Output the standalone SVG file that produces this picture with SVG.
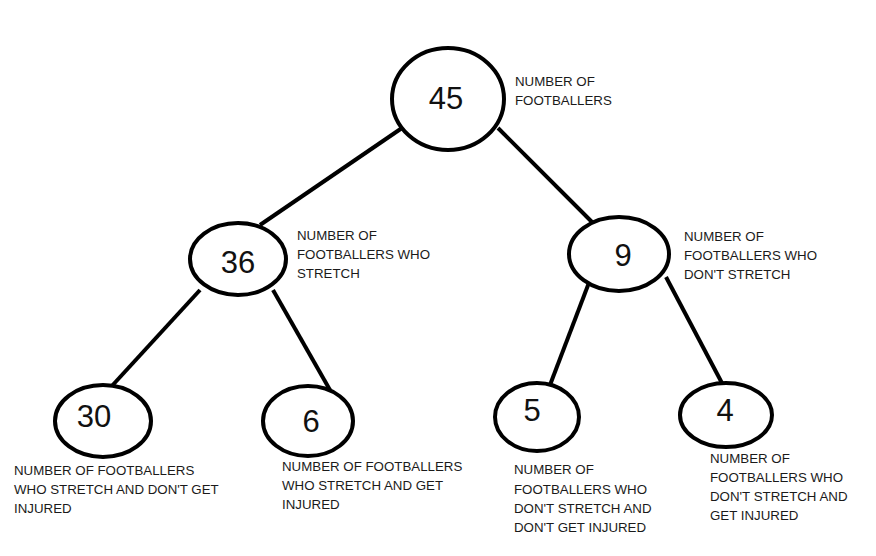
<svg xmlns="http://www.w3.org/2000/svg" width="876" height="556" viewBox="0 0 876 556">
<style>
.node{fill:#fff;stroke:#000;stroke-width:4}
.edge{stroke:#000;stroke-width:4;fill:none}
.num{font-family:"Liberation Sans",Arial,sans-serif;font-size:31px;fill:#111;text-anchor:middle}
.lbl{font-family:"Liberation Sans",Arial,sans-serif;font-size:13.3px;fill:#1a1a1a}
</style>
<rect width="876" height="556" fill="#fff"/>
<g id="connectors">
<line class="edge" x1="402" y1="128" x2="260" y2="225"/>
<line class="edge" x1="498" y1="128" x2="593" y2="223"/>
<line class="edge" x1="200" y1="290" x2="110" y2="388"/>
<line class="edge" x1="273" y1="290" x2="330" y2="390"/>
<line class="edge" x1="590" y1="280" x2="550" y2="385"/>
<line class="edge" x1="666" y1="277" x2="723" y2="385"/>
</g>
<g id="n45">
<ellipse class="node" cx="448" cy="99" rx="56" ry="51"/>
<text class="num" x="446" y="109">45</text>
<text class="lbl" x="515" y="86">NUMBER OF</text>
<text class="lbl" x="515" y="105">FOOTBALLERS</text>
</g>
<g id="n36">
<ellipse class="node" cx="238" cy="259" rx="48" ry="36"/>
<text class="num" x="238" y="273">36</text>
<text class="lbl" x="297" y="240">NUMBER OF</text>
<text class="lbl" x="297" y="259">FOOTBALLERS WHO</text>
<text class="lbl" x="297" y="278">STRETCH</text>
</g>
<g id="n9">
<ellipse class="node" cx="619" cy="254" rx="50" ry="37"/>
<text class="num" x="623" y="266">9</text>
<text class="lbl" x="684" y="241">NUMBER OF</text>
<text class="lbl" x="684" y="260">FOOTBALLERS WHO</text>
<text class="lbl" x="684" y="279">DON'T STRETCH</text>
</g>
<g id="n30">
<ellipse class="node" cx="103" cy="421" rx="48" ry="36"/>
<text class="num" x="94" y="427">30</text>
<text class="lbl" x="14" y="475">NUMBER OF FOOTBALLERS</text>
<text class="lbl" x="14" y="494">WHO STRETCH AND DON'T GET</text>
<text class="lbl" x="14" y="513">INJURED</text>
</g>
<g id="n6">
<ellipse class="node" cx="308" cy="421" rx="45" ry="35"/>
<text class="num" x="311" y="432">6</text>
<text class="lbl" x="282" y="471">NUMBER OF FOOTBALLERS</text>
<text class="lbl" x="282" y="490">WHO STRETCH AND GET</text>
<text class="lbl" x="282" y="509">INJURED</text>
</g>
<g id="n5">
<ellipse class="node" cx="537" cy="417" rx="42" ry="34"/>
<text class="num" x="532" y="421">5</text>
<text class="lbl" x="514" y="474">NUMBER OF</text>
<text class="lbl" x="514" y="494">FOOTBALLERS WHO</text>
<text class="lbl" x="514" y="513">DON'T STRETCH AND</text>
<text class="lbl" x="514" y="532">DON'T GET INJURED</text>
</g>
<g id="n4">
<ellipse class="node" cx="726" cy="415" rx="46" ry="32"/>
<text class="num" x="725" y="421">4</text>
<text class="lbl" x="710" y="463">NUMBER OF</text>
<text class="lbl" x="710" y="482">FOOTBALLERS WHO</text>
<text class="lbl" x="710" y="501">DON'T STRETCH AND</text>
<text class="lbl" x="710" y="520">GET INJURED</text>
</g>
</svg>
